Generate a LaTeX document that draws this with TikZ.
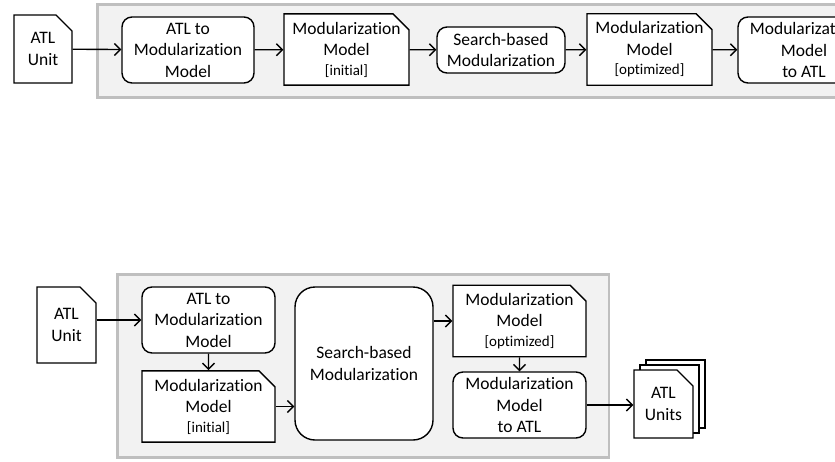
\documentclass[tikz,border=0pt]{standalone}
\usepackage{fontspec}
\setmainfont{Carlito}[Ligatures=NoCommon]
\usetikzlibrary{shapes.misc, arrows.meta, positioning}

\begin{document}
\begin{tikzpicture}[x=1pt, y=-1pt, line width=1.4pt,
    font=\fontsize{17.5}{21.5}\selectfont,
    >={Straight Barb[length=6pt, width=12pt]},
    panel/.style={draw=black!25, line width=2.8pt, fill=black!5},
    proc/.style={draw, fill=white, rounded corners=10pt, align=center, inner sep=0pt},
    doc/.style={draw, fill=white, chamfered rectangle, chamfered rectangle corners=north east,
        chamfered rectangle xsep=8pt, chamfered rectangle ysep=8pt, align=center, inner sep=0pt}]
    \useasboundingbox (0,0) rectangle (835,461);
    \clip (0,0) rectangle (835,461);

    % horizontal pipeline
    \draw[panel] (97.3,4.7) rectangle (900,97.3);
    \node[doc, minimum width=58pt, minimum height=68pt] (atl-unit) at (43,49) {ATL\\Unit};
    \node[proc, minimum width=132pt, minimum height=66pt] (atl2mod) at (188,50) {ATL to\\Modularization\\Model};
    \node[doc, minimum width=125pt, minimum height=69pt] (mod-init) at (346.5,49.5) {Modularization\\Model\\[-2pt]{\fontsize{15}{19}\selectfont[initial]}};
    \node[proc, minimum width=128pt, minimum height=46pt] (search) at (501,50) {Search-based\\Modularization};
    \node[doc, minimum width=125pt, minimum height=69pt] (mod-opt) at (649.5,49.5) {Modularization\\Model\\[-2pt]{\fontsize{15}{19}\selectfont[optimized]}};
    \node[proc, minimum width=132pt, minimum height=66pt] (mod2atl) at (804,50) {Modularization\\Model\\to ATL};

    \draw[->] (atl-unit) -- (atl2mod);
    \draw[->] (atl2mod) -- (mod-init);
    \draw[->] (mod-init) -- (search);
    \draw[->] (search) -- (mod-opt);
    \draw[->] (mod-opt) -- (mod2atl);

    % compact layout
    \draw[panel] (117.3,274.3) rectangle (609,457.7);
    \node[doc, minimum width=59pt, minimum height=76pt] (atl-unit2) at (66.5,325) {ATL\\Unit};
    \node[proc, minimum width=133pt, minimum height=66pt] (atl2mod2) at (208.5,320) {ATL to\\Modularization\\Model};
    \node[doc, minimum width=133pt, minimum height=67pt] (mod-init2) at (208.5,406.5) {Modularization\\Model\\[-2pt]{\fontsize{15}{19}\selectfont[initial]}};
    \node[proc, rounded corners=20pt, minimum width=138pt, minimum height=153pt] (search2) at (364,363.5) {Search-based\\Modularization};
    \node[doc, minimum width=133pt, minimum height=68pt] (mod-opt2) at (519.5,321) {Modularization\\Model\\[-2pt]{\fontsize{15}{19}\selectfont[optimized]}};
    \node[proc, minimum width=133pt, minimum height=66pt] (mod2atl2) at (519.5,405) {Modularization\\Model\\to ATL};
    \node[doc, minimum width=59pt, minimum height=68pt] (units-back) at (675.5,394) {};
    \node[doc, minimum width=59pt, minimum height=68pt] (units-mid) at (669.5,399) {};
    \node[doc, minimum width=59pt, minimum height=68pt] (units) at (663.5,404) {ATL\\Units};

    \draw[->] (atl-unit2.east |- atl2mod2.west) -- (atl2mod2.west);
    \draw[->] (atl2mod2) -- (mod-init2);
    \draw[->] (mod-init2.east) -- (mod-init2.east -| search2.west);
    \draw[->] (search2.east |- mod-opt2.west) -- (mod-opt2.west);
    \draw[->] (mod-opt2) -- (mod2atl2);
    \draw[->] (mod2atl2.east) -- (mod2atl2.east -| units.west);
\end{tikzpicture}
\end{document}
